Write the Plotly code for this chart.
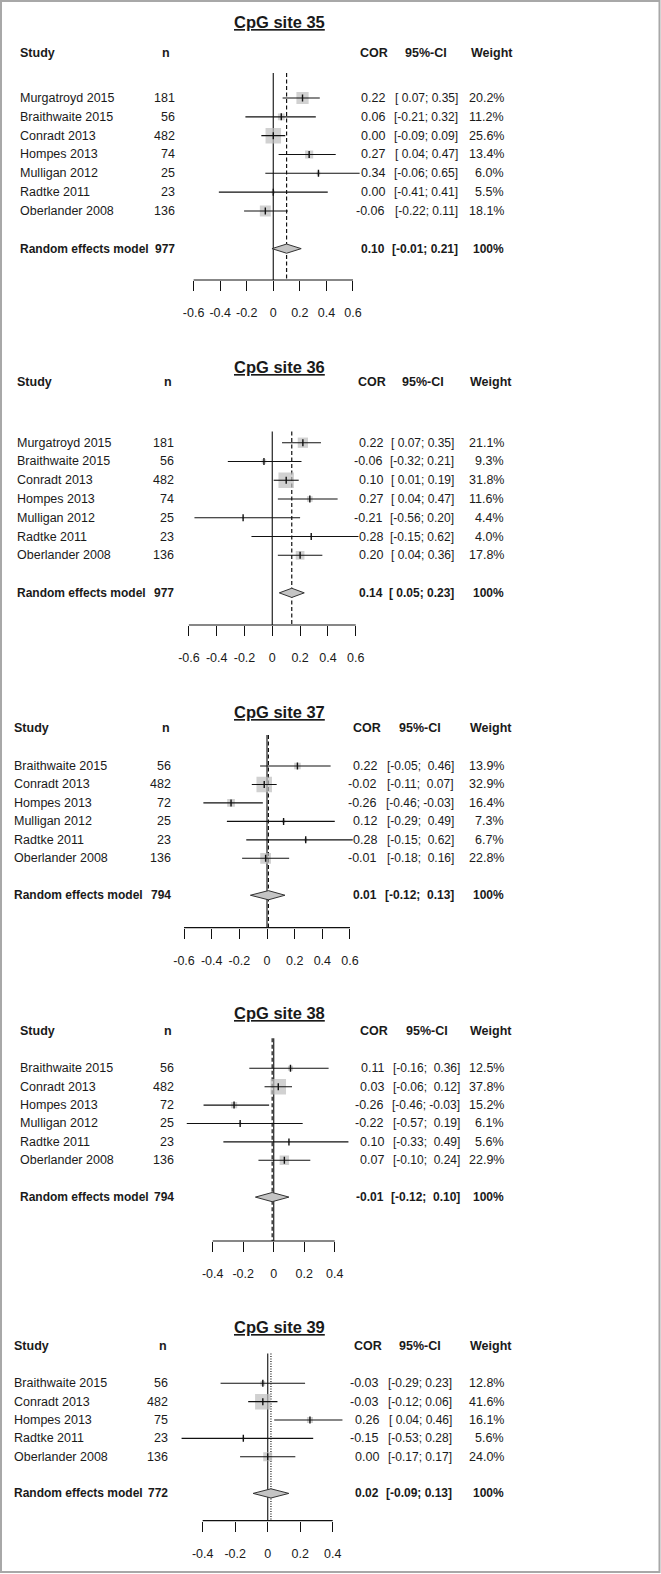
import plotly.graph_objects as go

W, H = 661, 1574
FONT = "Liberation Sans, Arial, Helvetica, sans-serif"
TXT = "#1a1a1a"
FS = 12.5
FS_SUM = 12
FS_CI = 12

# ---------------- data ----------------
titles = ["CpG site 35", "CpG site 36", "CpG site 37", "CpG site 38", "CpG site 39"]

study_35 = ["Murgatroyd 2015", "Braithwaite 2015", "Conradt 2013", "Hompes 2013",
            "Mulligan 2012", "Radtke 2011", "Oberlander 2008"]
n_35 = [181, 56, 482, 74, 25, 23, 136]
cor_35 = [0.22, 0.06, 0.00, 0.27, 0.34, 0.00, -0.06]
lo_35 = [0.07, -0.21, -0.09, 0.04, -0.06, -0.41, -0.22]
hi_35 = [0.35, 0.32, 0.09, 0.47, 0.65, 0.41, 0.11]
w_35 = [20.2, 11.2, 25.6, 13.4, 6.0, 5.5, 18.1]

study_36 = ["Murgatroyd 2015", "Braithwaite 2015", "Conradt 2013", "Hompes 2013",
            "Mulligan 2012", "Radtke 2011", "Oberlander 2008"]
n_36 = [181, 56, 482, 74, 25, 23, 136]
cor_36 = [0.22, -0.06, 0.10, 0.27, -0.21, 0.28, 0.20]
lo_36 = [0.07, -0.32, 0.01, 0.04, -0.56, -0.15, 0.04]
hi_36 = [0.35, 0.21, 0.19, 0.47, 0.20, 0.62, 0.36]
w_36 = [21.1, 9.3, 31.8, 11.6, 4.4, 4.0, 17.8]

study_37 = ["Braithwaite 2015", "Conradt 2013", "Hompes 2013", "Mulligan 2012",
            "Radtke 2011", "Oberlander 2008"]
n_37 = [56, 482, 72, 25, 23, 136]
cor_37 = [0.22, -0.02, -0.26, 0.12, 0.28, -0.01]
lo_37 = [-0.05, -0.11, -0.46, -0.29, -0.15, -0.18]
hi_37 = [0.46, 0.07, -0.03, 0.49, 0.62, 0.16]
w_37 = [13.9, 32.9, 16.4, 7.3, 6.7, 22.8]

study_38 = ["Braithwaite 2015", "Conradt 2013", "Hompes 2013", "Mulligan 2012",
            "Radtke 2011", "Oberlander 2008"]
n_38 = [56, 482, 72, 25, 23, 136]
cor_38 = [0.11, 0.03, -0.26, -0.22, 0.10, 0.07]
lo_38 = [-0.16, -0.06, -0.46, -0.57, -0.33, -0.10]
hi_38 = [0.36, 0.12, -0.03, 0.19, 0.49, 0.24]
w_38 = [12.5, 37.8, 15.2, 6.1, 5.6, 22.9]

study_39 = ["Braithwaite 2015", "Conradt 2013", "Hompes 2013", "Radtke 2011",
            "Oberlander 2008"]
n_39 = [56, 482, 75, 23, 136]
cor_39 = [-0.03, -0.03, 0.26, -0.15, 0.00]
lo_39 = [-0.29, -0.12, 0.04, -0.53, -0.17]
hi_39 = [0.23, 0.06, 0.46, 0.28, 0.17]
w_39 = [12.8, 41.6, 16.1, 5.6, 24.0]

summary_label = "Random effects model"
summary_n = [977, 977, 794, 794, 772]
summary_cor = [0.10, 0.14, 0.01, -0.01, 0.02]
summary_lo = [-0.01, 0.05, -0.12, -0.12, -0.09]
summary_hi = [0.21, 0.23, 0.13, 0.10, 0.13]
summary_weight = "100%"

ticks_wide = [-0.6, -0.4, -0.2, 0, 0.2, 0.4, 0.6]
ticklabels_wide = ["-0.6", "-0.4", "-0.2", "0", "0.2", "0.4", "0.6"]
ticks_narrow = [-0.4, -0.2, 0, 0.2, 0.4]
ticklabels_narrow = ["-0.4", "-0.2", "0", "0.2", "0.4"]

headers = ["Study", "n", "COR", "95%-CI", "Weight"]

data = [
    (study_35, n_35, cor_35, lo_35, hi_35, w_35, ticks_wide, ticklabels_wide),
    (study_36, n_36, cor_36, lo_36, hi_36, w_36, ticks_wide, ticklabels_wide),
    (study_37, n_37, cor_37, lo_37, hi_37, w_37, ticks_wide, ticklabels_wide),
    (study_38, n_38, cor_38, lo_38, hi_38, w_38, ticks_narrow, ticklabels_narrow),
    (study_39, n_39, cor_39, lo_39, hi_39, w_39, ticks_narrow, ticklabels_narrow),
]

# ---------------- layout (pixels) ----------------
# cols = (study left, n right, COR right, CI right, weight right)
geo = [
    dict(title=22, head=53, row0=98, dy=18.83, top=-1.33, axis=280, x0=273.3, s=132.8,
         hc=(166, 374, 425.5, 491.5), cols=(18, 176.7, 386.7, 459.7, 505.7), dash="4px,2.5px"),
    dict(title=366.7, head=382.3, row0=442.7, dy=18.77, top=-0.59, axis=625, x0=272.3, s=139,
         hc=(168.3, 372, 422.7, 491), cols=(15.3, 175.7, 384.7, 456.3, 505.7), dash="4px,2.5px"),
    dict(title=711.7, head=728.3, row0=766, dy=18.46, top=-1.68, axis=927.7, x0=267, s=138.3,
         hc=(165.7, 367, 420.3, 491), cols=(11.7, 173.3, 379, 456.3, 505.7), dash="4px,2.5px"),
    dict(title=1012.7, head=1031, row0=1068.3, dy=18.4, top=-1.63, axis=1241, x0=273.7, s=152.5,
         hc=(168.3, 374, 426.7, 491), cols=(17.7, 175.7, 385.7, 462, 505.7), dash="4px,2.5px"),
    dict(title=1327.3, head=1346, row0=1383.3, dy=18.35, top=-1.63, axis=1520.7, x0=267.7, s=162.5,
         hc=(162.7, 368, 419.7, 491), cols=(12, 170, 380.7, 454.3, 505.7), dash="1px,1.5px"),
]

XL, XR = 172, 378
BOX_MAX = 15.5
NB = "\u00a0"


def px(x):
    return x / W


def py(y):
    return 1 - y / H


def fmt_ci(los, his):
    lw = max(len(f"{v:.2f}") for v in los)
    hw = max(len(f"{v:.2f}") for v in his)
    out = []
    for a, b in zip(los, his):
        s = "[" + f"{a:.2f}".rjust(lw) + "; " + f"{b:.2f}".rjust(hw) + "]"
        out.append(s.replace(" ", NB))
    return out


fig = go.Figure()
annotations = []
shapes = []

for i, ((studies, ns, cors, los, his, ws, tv, tt), g) in enumerate(zip(data, geo), start=1):
    xs = "x" if i == 1 else f"x{i}"
    ys = "y" if i == 1 else f"y{i}"
    xkey = "xaxis" if i == 1 else f"xaxis{i}"
    ykey = "yaxis" if i == 1 else f"yaxis{i}"
    k = len(studies)
    srow = k + 1
    top_px = g["row0"] + (g["top"] - 0.3) * g["dy"]
    y_bot = -(g["axis"] - g["row0"]) / g["dy"]
    y_top = -(top_px - g["row0"]) / g["dy"]

    fig.layout[xkey] = dict(
        domain=[px(XL), px(XR)], range=[(XL - g["x0"]) / g["s"], (XR - g["x0"]) / g["s"]],
        anchor=ys, showgrid=False, zeroline=False, showline=False,
        tickmode="array", tickvals=tv, ticktext=tt, ticks="outside", ticklen=10,
        tickwidth=1, tickcolor="#111", ticklabelstandoff=11, tickangle=0,
        tickfont=dict(family=FONT, size=FS, color=TXT), fixedrange=True,
    )
    fig.layout[ykey] = dict(
        domain=[py(g["axis"]), py(top_px)], range=[y_bot, y_top], anchor=xs,
        visible=False, fixedrange=True,
    )

    rows = [-r for r in range(k)]
    sizes = [BOX_MAX * w / max(ws) for w in ws]

    # weight boxes
    fig.add_trace(go.Scatter(x=cors, y=rows, xaxis=xs, yaxis=ys, mode="markers",
                             marker=dict(symbol="square", size=sizes, color="#bdbdbd",
                                         line=dict(width=0)),
                             showlegend=False, hoverinfo="skip"))
    # CI lines
    lx, ly = [], []
    for a, b, r in zip(los, his, rows):
        lx += [a, b, None]
        ly += [r, r, None]
    fig.add_trace(go.Scatter(x=lx, y=ly, xaxis=xs, yaxis=ys, mode="lines",
                             line=dict(color="#111", width=1.1),
                             showlegend=False, hoverinfo="skip"))
    # point-estimate ticks
    fig.add_trace(go.Scatter(x=cors, y=rows, xaxis=xs, yaxis=ys, mode="markers",
                             marker=dict(symbol="line-ns", size=5,
                                         line=dict(color="#111", width=1.4)),
                             showlegend=False, hoverinfo="skip"))
    # summary diamond
    est, slo, shi = summary_cor[i - 1], summary_lo[i - 1], summary_hi[i - 1]
    hh = 4.6 / g["dy"]
    fig.add_trace(go.Scatter(x=[slo, est, shi, est, slo],
                             y=[-srow, -srow + hh, -srow, -srow - hh, -srow],
                             xaxis=xs, yaxis=ys, mode="lines", fill="toself",
                             fillcolor="#c4c4c4", line=dict(color="#333", width=1),
                             showlegend=False, hoverinfo="skip"))

    # reference lines
    shapes.append(dict(type="line", xref=xs, yref=ys, x0=0, x1=0,
                       y0=-g["top"], y1=y_bot, line=dict(color="#333", width=1.3),
                       layer="below"))
    shapes.append(dict(type="line", xref=xs, yref=ys, x0=est, x1=est,
                       y0=-g["top"], y1=y_bot, line=dict(color="#111", width=1.2, dash=g["dash"]),
                       layer="below"))
    # axis line between first and last tick
    shapes.append(dict(type="line", xref=xs, yref=f"{ys} domain", x0=min(tv), x1=max(tv),
                       y0=0, y1=0, line=dict(color="#111", width=1.2)))

    # title
    annotations.append(dict(xref="paper", yref="paper", x=px(279.5), y=py(g["title"]),
                            text=f"<b>{titles[i - 1]}</b>", showarrow=False,
                            xanchor="center", yanchor="middle",
                            font=dict(family=FONT, size=16.5, color=TXT, lineposition="under")))
    # headers
    sx, nr, cr, cir, wr = g["cols"]
    hx = [(sx, "left")] + [(c, "center") for c in g["hc"]]
    for (x, anc), h in zip(hx, headers):
        annotations.append(dict(xref="paper", yref="paper", x=px(x), y=py(g["head"]),
                                text=f"<b>{h}</b>", showarrow=False, xanchor=anc,
                                yanchor="middle", font=dict(family=FONT, size=FS, color=TXT)))

    cis = fmt_ci(los + [slo], his + [shi])
    cols_txt = []
    for r in range(k):
        cols_txt.append((-r, [studies[r], str(ns[r]), f"{cors[r]:.2f}", cis[r], f"{ws[r]:.1f}%"], False))
    cols_txt.append((-srow, [summary_label, str(summary_n[i - 1]), f"{est:.2f}", cis[-1],
                             summary_weight], True))
    anchors = [(sx, "left"), (nr, "right"), (cr, "right"), (cir, "right"), (wr, "right")]
    for yv, texts, bold in cols_txt:
        for j, ((x, anc), t) in enumerate(zip(anchors, texts)):
            size = FS_CI if j == 3 else (FS_SUM if bold else FS)
            annotations.append(dict(xref="paper", yref=ys, x=px(x), y=yv,
                                    text=f"<b>{t}</b>" if bold else t, showarrow=False,
                                    xanchor=anc, yanchor="middle",
                                    font=dict(family=FONT, size=size, color=TXT)))

# outer frame
shapes.append(dict(type="rect", xref="paper", yref="paper", x0=px(1), x1=px(659.5),
                   y0=py(1572), y1=py(1), line=dict(color="#a8a8a8", width=2)))

fig.update_layout(
    width=W, height=H, margin=dict(l=0, r=0, t=0, b=0),
    paper_bgcolor="white", plot_bgcolor="rgba(0,0,0,0)",
    annotations=annotations, shapes=shapes, showlegend=False,
    font=dict(family=FONT, color=TXT),
)

fig.write_html("out.html", config={"displayModeBar": False},
               post_script="document.body.style.margin='0';document.body.style.padding='0';")
